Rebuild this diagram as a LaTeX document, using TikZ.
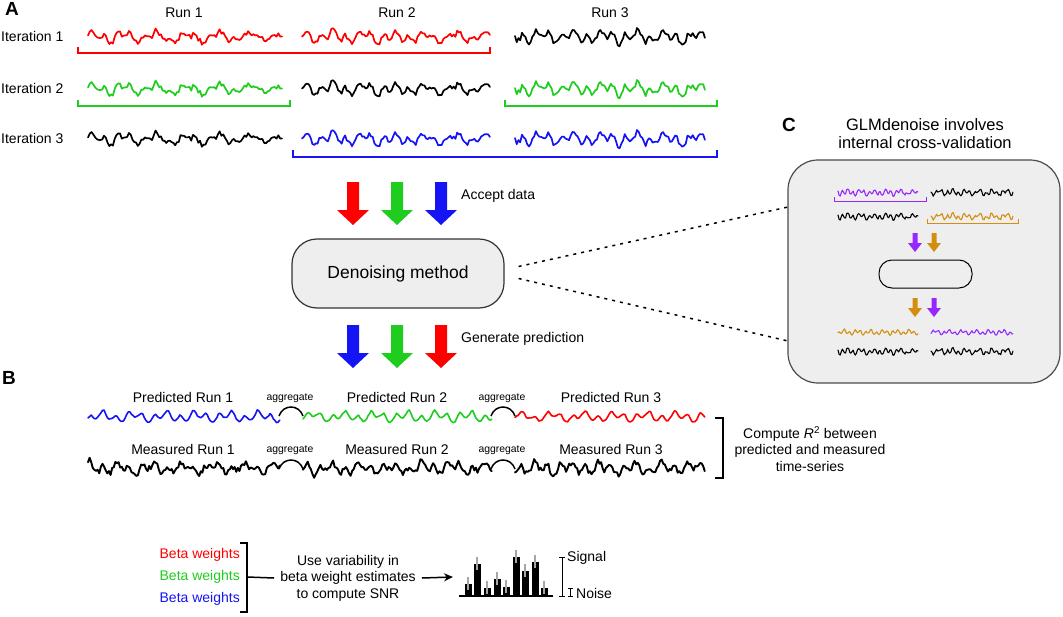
\documentclass[tikz,border=0pt]{standalone}
\usepackage{fontspec}
\setmainfont{Liberation Sans}
\usetikzlibrary{arrows.meta}
\definecolor{wred}{RGB}{255,0,0}
\definecolor{wgreen}{RGB}{30,205,30}
\definecolor{wblue}{RGB}{20,20,245}
\definecolor{wpurple}{RGB}{150,40,255}
\definecolor{worange}{RGB}{212,142,15}
\definecolor{boxgray}{RGB}{238,238,238}
% #1 colour, #2 x0, #3 y0, #4 width, #5 amplitude, #6 seed, #7 line width, #8 noise, #9 samples
\newcommand\wave[9]{%
  \pgfmathsetseed{#6}%
  \draw[#1, line width=#7pt, line join=round, line cap=round]
    plot[domain=0:1, samples=#9, variable=\q]
    ({#2+#4*\q},{#3-#5*(0.45*sin(\q*2200+#6*37)+0.25*sin(\q*5300+#6*61)+0.4*(1-2*abs(sin(\q*2700+#6*13)))+#8*rand)});
}
% #1 colour, #2 x, #3 y top, #4 y tip
\newcommand\bigarr[4]{%
  \fill[#1] (#2-6,#3) -- (#2+6,#3) -- (#2+6,#4-15) -- (#2+16,#4-15) -- (#2,#4)
    -- (#2-16,#4-15) -- (#2-6,#4-15) -- cycle;}
\newcommand\smallarr[4]{%
  \fill[#1] (#2-2.5,#3) -- (#2+2.5,#3) -- (#2+2.5,#4-9) -- (#2+7,#4-9) -- (#2,#4)
    -- (#2-7,#4-9) -- (#2-2.5,#4-9) -- cycle;}
\begin{document}
\begin{tikzpicture}[x=1pt,y=-1pt,
  every node/.style={inner sep=0pt, font=\fontsize{14}{16.5}\selectfont},
  panellabel/.style={font=\bfseries\fontsize{19}{19}\selectfont},
  smalllabel/.style={font=\fontsize{10.4}{12}\selectfont},
  bracketline/.style={line width=1.5pt},
  dotline/.style={line width=1.5pt, dash pattern=on 3pt off 5pt},
  procbox/.style={draw=black!80, fill=boxgray, line width=1.2pt}]
\useasboundingbox (0,0) rectangle (1063,616);

% ---------- panel letters ----------
\node[panellabel] (lA) at (12,9) {A};
\node[panellabel] (lB) at (9,378) {B};
\node[panellabel] (lC) at (789,125) {C};

% ---------- panel A ----------
\node (r1) at (184,13) {Run 1};
\node (r2) at (397,13) {Run 2};
\node (r3) at (610,13) {Run 3};
\node[anchor=west] (it1) at (1,36) {Iteration 1};
\node[anchor=west] (it2) at (1,88) {Iteration 2};
\node[anchor=west] (it3) at (1,138) {Iteration 3};

\wave{wred}{88}{36}{194}{8}{11}{1.7}{0.3}{110}
\wave{wred}{302}{36}{188}{8}{22}{1.7}{0.3}{110}
\wave{black}{515}{36}{190}{8}{33}{1.7}{0.3}{110}
\wave{wgreen}{88}{88}{194}{8}{11}{1.7}{0.3}{110}
\wave{black}{302}{88}{188}{8}{22}{1.7}{0.3}{110}
\wave{wgreen}{515}{88}{190}{8}{33}{1.7}{0.3}{110}
\wave{black}{88}{138}{194}{8}{11}{1.7}{0.3}{110}
\wave{wblue}{302}{138}{188}{8}{22}{1.7}{0.3}{110}
\wave{wblue}{515}{138}{190}{8}{33}{1.7}{0.3}{110}

\draw[bracketline, wred] (78,47) -- (78,53) -- (490,53) -- (490,47);
\draw[bracketline, wgreen] (78,100) -- (78,106) -- (290,106) -- (290,100);
\draw[bracketline, wgreen] (505,100) -- (505,106) -- (717,106) -- (717,100);
\draw[bracketline, wblue] (293,150) -- (293,157) -- (717,157) -- (717,150);

% ---------- arrows and method ----------
\bigarr{wred}{353}{182}{225}
\bigarr{wgreen}{397}{182}{225}
\bigarr{wblue}{441}{182}{225}
\node[anchor=west] (accept) at (461,196) {Accept data};

\node[procbox, rounded corners=25pt, minimum width=212pt, minimum height=69pt,
  font=\fontsize{17.5}{20}\selectfont] (den) at (398,273.5) {Denoising method};

\bigarr{wblue}{353}{325}{368}
\bigarr{wgreen}{397}{325}{368}
\bigarr{wred}{441}{325}{368}
\node[anchor=west] (generate) at (461,339) {Generate prediction};

% ---------- panel C ----------
\node[font=\fontsize{16.5}{18}\selectfont, align=center] (ctitle) at (925,133.5)
  {GLMdenoise involves\\internal cross-validation};
\node[procbox, draw=black!70, rounded corners=30pt, minimum width=272pt, minimum height=223pt]
  (panelC) at (924,271.5) {};
\coordinate (cu) at (788,207);
\coordinate (cl) at (788,341);
\draw[dotline] ([xshift=14pt,yshift=7pt]den.east) -- (cu);
\draw[dotline] ([xshift=14pt,yshift=-5pt]den.east) -- (cl);

\wave{wpurple}{838}{192}{80}{3.5}{44}{1.1}{0.3}{75}
\wave{black}{931}{192}{82}{3.5}{55}{1.1}{0.3}{75}
\wave{black}{838}{216}{80}{3.5}{44}{1.1}{0.3}{75}
\wave{worange}{931}{216}{82}{3.5}{55}{1.1}{0.3}{75}
\draw[line width=1pt, wpurple] (834,197) -- (834,201) -- (926,201) -- (926,197);
\draw[line width=1pt, worange] (927,219) -- (927,223) -- (1018,223) -- (1018,219);

\smallarr{wpurple}{915}{233}{252}
\smallarr{worange}{934}{233}{252}
\node[draw=black, fill=boxgray, line width=1pt, rounded corners=13pt,
  minimum width=93pt, minimum height=28pt] (minibox) at (925.5,274) {};
\smallarr{worange}{915}{298}{317}
\smallarr{wpurple}{934}{298}{317}

\wave{worange}{838}{332}{80}{3}{66}{1.1}{0.12}{75}
\wave{wpurple}{931}{332}{82}{3}{77}{1.1}{0.12}{75}
\wave{black}{838}{351}{80}{3.5}{44}{1.1}{0.3}{75}
\wave{black}{931}{351}{82}{3.5}{55}{1.1}{0.3}{75}

% ---------- panel B ----------
\node (p1) at (183,397) {Predicted Run 1};
\node (p2) at (397,397) {Predicted Run 2};
\node (p3) at (611,397) {Predicted Run 3};
\node (m1) at (183,449) {Measured Run 1};
\node (m2) at (397,449) {Measured Run 2};
\node (m3) at (611,449) {Measured Run 3};
\node[smalllabel] (ag1) at (290,398) {aggregate};
\node[smalllabel] (ag2) at (502,398) {aggregate};
\node[smalllabel] (ag3) at (290,450) {aggregate};
\node[smalllabel] (ag4) at (502,450) {aggregate};

\wave{wblue}{88}{416}{192}{6}{66}{1.6}{0.1}{120}
\wave{wgreen}{303}{416}{189}{6}{77}{1.6}{0.1}{120}
\wave{wred}{515}{416}{190}{6}{88}{1.6}{0.1}{120}
\wave{black}{88}{467.5}{192}{7}{12}{1.9}{0.4}{120}
\wave{black}{303}{467.5}{189}{7}{23}{1.9}{0.4}{120}
\wave{black}{515}{467.5}{190}{7}{34}{1.9}{0.4}{120}

\draw[line width=1.5pt] (279,416) .. controls (283,404) and (299,404) .. (303,416);
\draw[line width=1.5pt] (491,416) .. controls (495,404) and (511,404) .. (515,416);
\draw[line width=1.5pt] (279,469) .. controls (283,457) and (299,457) .. (303,469);
\draw[line width=1.5pt] (491,469) .. controls (495,457) and (511,457) .. (515,469);

\draw[bracketline] (715,418) -- (723,418) -- (723,478) -- (715,478);
\node[align=center] (r2text) at (810,449)
  {Compute \textit{R}\textsuperscript{2} between\\predicted and measured\\time-series};

% ---------- SNR ----------
\node[anchor=east, text=wred] (bw1) at (240,555) {Beta weights};
\node[anchor=east, text=wgreen] (bw2) at (240,577) {Beta weights};
\node[anchor=east, text=wblue] (bw3) at (240,599) {Beta weights};
\draw[bracketline] (240,543) -- (247,543) -- (247,612) -- (240,612);
\coordinate (bmid) at (247,577);
\node[align=center] (snr) at (348,578)
  {Use variability in\\beta weight estimates\\to compute SNR};
\draw[line width=1.5pt] (bmid) -- ([xshift=-6pt]snr.west);
\coordinate (histleft) at (453,577);
\draw[line width=1.5pt, -{Stealth[length=9pt,width=8pt]}] ([xshift=6pt]snr.east) -- (histleft);

\foreach \bx/\by in {468/584,477/564,487/588,497/579,506/587,516/557,525/571,535/562,544/588}{
  \fill[black] (\bx-3.5,596) rectangle (\bx+3.5,\by);
  \draw[black!35, line width=2.4pt] (\bx,\by-7) -- (\bx,\by+6);
}
\draw[line width=1.2pt] (459,596) -- (553,596);
\draw[line width=1pt] (559,557) -- (565,557) (562,557) -- (562,596) (559,596) -- (565,596);
\draw[line width=1pt] (568,588) -- (573,588) (570.5,588) -- (570.5,596) (568,596) -- (573,596);
\node[anchor=west] (sig) at (567,558) {Signal};
\node[anchor=west] (noi) at (576,593) {Noise};
\end{tikzpicture}
\end{document}
